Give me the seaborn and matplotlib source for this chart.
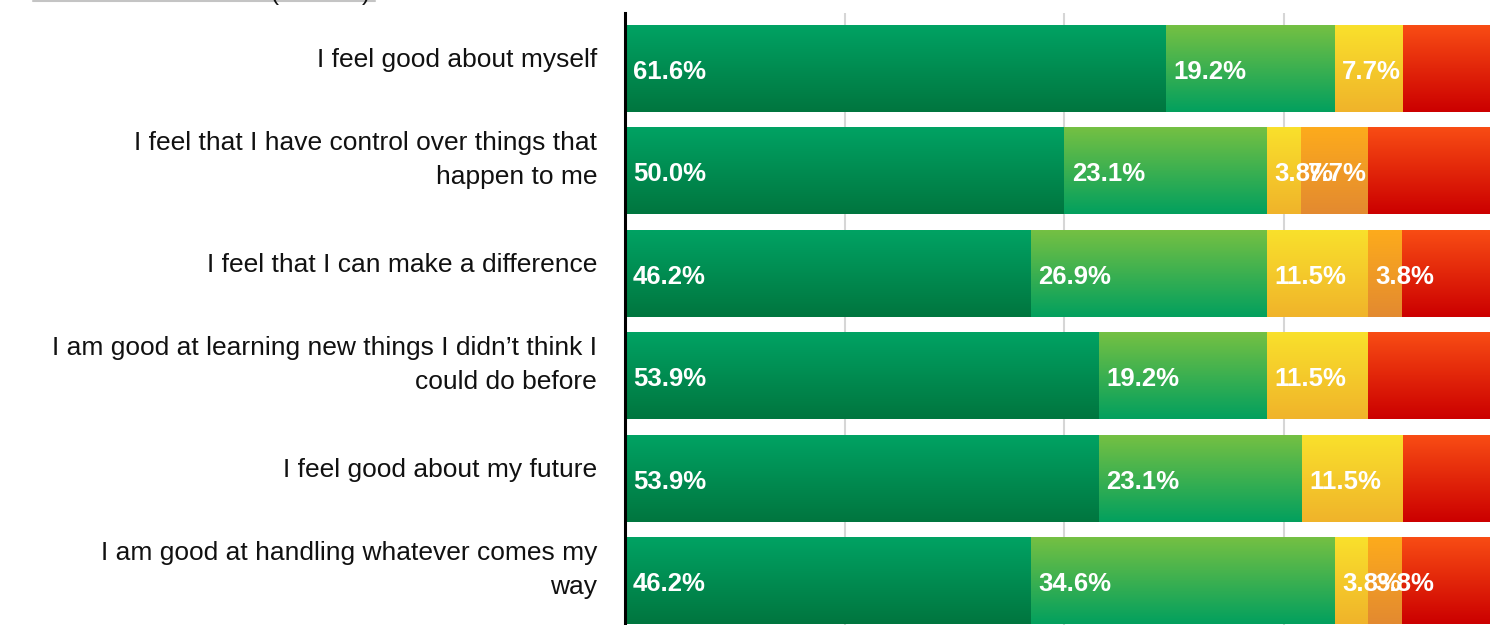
import numpy as np
import pandas as pd
import matplotlib
matplotlib.use("Agg")
import matplotlib.pyplot as plt
import matplotlib.transforms as mtransforms
from matplotlib.colors import LinearSegmentedColormap
from matplotlib.lines import Line2D
import seaborn as sns

sns.set_theme(style="white")
plt.rcParams['font.family'] = ['Liberation Sans', 'DejaVu Sans']

# statements, top to bottom
statements = [
    "I feel good about myself",
    "I feel that I have control over things that\nhappen to me",
    "I feel that I can make a difference",
    "I am good at learning new things I didn\u2019t think I\ncould do before",
    "I feel good about my future",
    "I am good at handling whatever comes my\nway",
]

# percentages per answer band (left to right)
strongly_agree = [61.6, 50.0, 46.2, 53.9, 53.9, 46.2]
agree = [19.2, 23.1, 26.9, 19.2, 23.1, 34.6]
neutral = [7.7, 3.8, 11.5, 11.5, 11.5, 3.8]
disagree = [0.0, 7.7, 3.8, 0.0, 0.0, 3.8]
strongly_disagree = [11.5, 15.4, 11.6, 15.4, 11.5, 11.6]

series = [strongly_agree, agree, neutral, disagree, strongly_disagree]
show_label = [True, True, True, True, False]

# gradient (top, bottom) for each band
gradients = [
    ("#00a263", "#00763f"),
    ("#74c043", "#03a05e"),
    ("#f9e02c", "#f0b42a"),
    ("#fdab1c", "#e38a30"),
    ("#f84c14", "#cc0000"),
]

df = pd.DataFrame(np.array(series).T, columns=["sa", "a", "n", "d", "sd"])
df["statement"] = statements
cum = df[["sa", "a", "n", "d", "sd"]].cumsum(axis=1)

fig = plt.figure(figsize=(14.9, 6.25), dpi=100)
ax = fig.add_axes([625 / 1490, -11.5 / 625, 878 / 1490, 623.2 / 625])

bands = ["sa", "a", "n", "d", "sd"]
# draw the cumulative totals, widest first, each one over the last
for k in range(len(bands) - 1, -1, -1):
    sns.barplot(x=cum[bands[k]], y=df["statement"], orient="h",
                color=gradients[k][0], width=0.84, ax=ax)
    top, bot = gradients[k]
    cmap = LinearSegmentedColormap.from_list("g%d" % k, [top, bot])
    grad = np.linspace(0, 1, 64).reshape(-1, 1)
    for p in ax.patches[-len(df):]:
        x0, y0 = p.get_x(), p.get_y()
        w, h = p.get_width(), p.get_height()
        p.set_visible(False)
        ax.imshow(grad, cmap=cmap, extent=(x0, x0 + w, y0 + h, y0),
                  aspect="auto", origin="upper", zorder=2 + (len(bands) - k),
                  interpolation="bilinear")

ax.set_xlim(0, 100)
ax.set_ylim(len(df) - 1 + 0.54, -0.54)

# value labels
for k, b in enumerate(bands):
    if not show_label[k]:
        continue
    for i in range(len(df)):
        v = df[b].iloc[i]
        if v <= 0:
            continue
        start = cum[b].iloc[i] - v
        ax.text(start + 0.9, i + 0.03, "%.1f%%" % v, color="white",
                fontsize=18.5, fontweight="bold", va="center", ha="left",
                zorder=20)

ax.set_xticks([25, 50, 75, 100])
ax.set_xticklabels([])
ax.xaxis.grid(True, color="#d6d6d6", linewidth=1.5)
ax.yaxis.grid(False)
ax.set_axisbelow(True)
ax.set_xlabel("")
ax.set_ylabel("")
for s in ["top", "right", "bottom"]:
    ax.spines[s].set_visible(False)
ax.spines["left"].set_color("black")
ax.spines["left"].set_linewidth(2.2)
ax.spines["left"].set_zorder(30)
ax.tick_params(axis="both", length=0)
ax.tick_params(axis="y", pad=20, labelsize=19, labelcolor="#111111")
for lab in ax.get_yticklabels():
    lift = 19 if "\n" in lab.get_text() else 11
    offset = mtransforms.ScaledTranslation(0, lift / 100, fig.dpi_scale_trans)
    lab.set_linespacing(1.55)
    lab.set_transform(lab.get_transform() + offset)

# cut-off heading at the very top
fig.add_artist(Line2D([33 / 1490, 375 / 1490], [1 - 1 / 625, 1 - 1 / 625],
                      color="#c4c4c4", linewidth=1.5))
fig.text(270 / 1490, 1.0, "(", fontsize=17.5, va="baseline", color="#111111")
fig.text(362 / 1490, 1.0, ")", fontsize=17.5, va="baseline", color="#111111")

fig.savefig("out.png", dpi=100)
